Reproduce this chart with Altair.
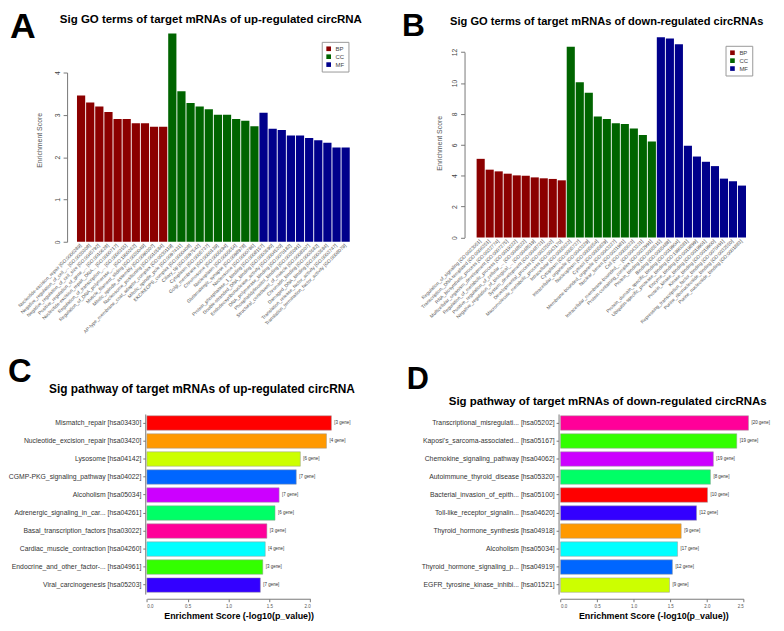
import altair as alt
import pandas as pd

# ---------------- data ----------------
go_up_terms = [
    "Nucleotide-excision_repair [GO:0006289]",
    "Negative_regulation_of_cell_... [GO:0030308]",
    "Negative_regulation_of_cell_size [GO:0045792]",
    "Positive_regulation_of_gene_... [GO:0010628]",
    "Nucleotide-excision_repair,_DNA... [GO:0000717]",
    "Regulation_of_transcription_... [GO:0006355]",
    "Regulation_of_DNA_polymerase_... [GO:1900262]",
    "Muscle_filament_sliding [GO:0030049]",
    "Mitotic_spindle_assembly [GO:0090307]",
    "Nucleosome_positioning [GO:0016584]",
    "AP-type_membrane_coat_adaptor_complex [GO:0030119]",
    "Mitotic_spindle_pole [GO:0097431]",
    "EKC/KEOPS_complex [GO:0000408]",
    "Ciliary_tip [GO:0097542]",
    "Cytoplasm [GO:0005737]",
    "Golgi_membrane [GO:0000139]",
    "Chromosome [GO:0005694]",
    "Nucleoplasm [GO:0005654]",
    "Glutamatergic_synapse [GO:0098978]",
    "Nucleosome [GO:0000786]",
    "Protein_phosphatase_1_binding [GO:0008157]",
    "Double-stranded_DNA_binding [GO:0003690]",
    "Endodeoxyribonuclease_activity [GO:0004520]",
    "DNA_polymerase_binding [GO:0070182]",
    "Phosphatidylinositol_binding [GO:0035091]",
    "Structural_constituent_of_muscle [GO:0008307]",
    "Chromatin_binding [GO:0003682]",
    "Damaged_DNA_binding [GO:0003684]",
    "Translation_release_factor_activity [GO:0003747]",
    "Translation_termination_factor_activity [GO:0008079]",
]
go_up_cats = ["BP"] * 10 + ["CC"] * 10 + ["MF"] * 10
go_up_scores = [3.46, 3.29, 3.20, 3.07, 2.90, 2.90, 2.80, 2.80, 2.72, 2.72,
                4.92, 3.56, 3.28, 3.20, 3.13, 3.00, 3.00, 2.90, 2.86, 2.73,
                3.05, 2.67, 2.64, 2.51, 2.51, 2.45, 2.40, 2.34, 2.23, 2.23]

go_down_terms = [
    "Regulation_of_signaling [GO:0023051]",
    "Transcription,_DNA-templated [GO:0006351]",
    "RNA_biosynthetic_process [GO:0032774]",
    "Multicellular_organism_development [GO:0007275]",
    "Regulation_of_metabolic_process [GO:0019222]",
    "Positive_regulation_of_cellular_... [GO:0048522]",
    "Negative_regulation_of_biological_... [GO:0048519]",
    "System_development [GO:0048731]",
    "Developmental_process [GO:0032502]",
    "Macromolecule_metabolic_process [GO:0043170]",
    "Intracellular [GO:0005622]",
    "Cytoplasm [GO:0005737]",
    "Intracellular_organelle [GO:0043229]",
    "Nucleoplasm [GO:0005654]",
    "Cytosol [GO:0005829]",
    "Membrane-bounded_organelle [GO:0043227]",
    "Nuclear_lumen [GO:0031981]",
    "Cell [GO:0005623]",
    "Intracellular_membrane-bounded_... [GO:0043231]",
    "Protein-containing_complex [GO:0032991]",
    "Protein_binding [GO:0005515]",
    "Binding [GO:0005488]",
    "Protein_domain_specific_binding [GO:0019904]",
    "Ubiquitin-specific_protease_binding [GO:1990381]",
    "Enzyme_binding [GO:0019899]",
    "Protein_kinase_binding [GO:0019901]",
    "Kinase_binding [GO:0019900]",
    "Repressing_transcription_factor_binding [GO:0070491]",
    "Purine_ribonucleoside_binding [GO:0032550]",
    "Purine_nucleoside_binding [GO:0001883]",
]
go_down_cats = ["BP"] * 10 + ["CC"] * 10 + ["MF"] * 10
go_down_scores = [5.09, 4.39, 4.28, 4.13, 4.02, 4.00, 3.89, 3.83, 3.79, 3.70,
                  12.34, 10.05, 9.37, 7.83, 7.66, 7.40, 7.34, 7.06, 6.63, 6.22,
                  12.96, 12.88, 12.51, 5.93, 5.24, 4.90, 4.62, 3.81, 3.64, 3.36]

path_up = ["Mismatch_repair [hsa03430]", "Nucleotide_excision_repair [hsa03420]",
           "Lysosome [hsa04142]", "CGMP-PKG_signaling_pathway [hsa04022]",
           "Alcoholism [hsa05034]", "Adrenergic_signaling_in_car... [hsa04261]",
           "Basal_transcription_factors [hsa03022]", "Cardiac_muscle_contraction [hsa04260]",
           "Endocrine_and_other_factor-... [hsa04961]", "Viral_carcinogenesis [hsa05203]"]
path_up_scores = [2.26, 2.20, 1.88, 1.83, 1.62, 1.57, 1.47, 1.45, 1.42, 1.39]
path_up_genes = ["[3 gene]", "[4 gene]", "[6 gene]", "[7 gene]", "[7 gene]",
                 "[6 gene]", "[3 gene]", "[4 gene]", "[3 gene]", "[7 gene]"]

path_down = ["Transcriptional_misregulati... [hsa05202]", "Kaposi's_sarcoma-associated... [hsa05167]",
             "Chemokine_signaling_pathway [hsa04062]", "Autoimmune_thyroid_disease [hsa05320]",
             "Bacterial_invasion_of_epith... [hsa05100]", "Toll-like_receptor_signalin... [hsa04620]",
             "Thyroid_hormone_synthesis [hsa04918]", "Alcoholism [hsa05034]",
             "Thyroid_hormone_signaling_p... [hsa04919]", "EGFR_tyrosine_kinase_inhibi... [hsa01521]"]
path_down_scores = [2.57, 2.41, 2.09, 2.05, 2.01, 1.86, 1.65, 1.60, 1.53, 1.49]
path_down_genes = ["[20 gene]", "[19 gene]", "[19 gene]", "[8 gene]", "[10 gene]",
                   "[12 gene]", "[9 gene]", "[17 gene]", "[12 gene]", "[9 gene]"]

# ---------------- styles ----------------
go_domain = ["BP", "CC", "MF"]
go_colors = ["#8B0000", "#006400", "#00008B"]
path_up_colors = ["#FF0000", "#FF9900", "#CCFF00", "#0066FF", "#CC00FF",
                  "#00FF66", "#FF0099", "#00FFFF", "#33FF00", "#3300FF"]
path_down_colors = ["#FF0099", "#33FF00", "#CC00FF", "#00FF66", "#FF0000",
                    "#3300FF", "#FF9900", "#00FFFF", "#0066FF", "#CCFF00"]

SANS = "Liberation Sans"
OX, OY = 16, 8           # page position of the plot origin
W, H = 760, 615


def px(a):
    return a - OX


def py(a):
    return a - OY


def go_panel(terms, cats, scores, xr, ydom, yr, yticks, axis_x, title_xy, legend_xy):
    df = pd.DataFrame({"term": terms, "cat": cats, "score": scores})
    return alt.Chart(df).mark_bar().encode(
        x=alt.X("term:N", sort=None,
                scale=alt.Scale(range=[px(xr[0]), px(xr[1])], paddingInner=0.1, paddingOuter=0),
                axis=alt.Axis(orient="bottom", offset=py(yr[0]) - H, domain=False, ticks=False,
                              labelAngle=315, labelAlign="right", labelBaseline="middle",
                              labelPadding=3, labelFontSize=4.8, labelColor="#555", labelFont=SANS,
                              labelLimit=400, labelOverlap=False, title=None, grid=False)),
        y=alt.Y("score:Q",
                scale=alt.Scale(domain=ydom, range=[py(yr[0]), py(yr[1])], nice=False),
                axis=alt.Axis(orient="left", offset=-px(axis_x), values=yticks, format="d",
                              grid=False, domainColor="#777", tickColor="#777", tickSize=4,
                              labelAngle=270, labelAlign="center", labelBaseline="bottom",
                              labelPadding=3, labelFont=SANS, labelFontSize=6.8, labelColor="#444",
                              title="Enrichment Score", titleFont=SANS, titleFontSize=7,
                              titleFontWeight="normal", titleColor="#555",
                              titleX=title_xy[0] - axis_x, titleY=py(title_xy[1]),
                              titleAngle=270, titleAlign="center", titleBaseline="middle")),
        color=alt.Color("cat:N", scale=alt.Scale(domain=go_domain, range=go_colors),
                        legend=alt.Legend(orient="none", legendX=px(legend_xy[0]),
                                          legendY=py(legend_xy[1]), title=None,
                                          strokeColor="#999", fillColor="white", padding=4,
                                          symbolType="square", symbolSize=22, symbolStrokeWidth=0,
                                          labelFont=SANS, labelFontSize=6, labelColor="#444",
                                          rowPadding=2, labelOffset=4)),
    )


def path_panel(names, scores, genes, colors, xdom, xr, xticks, yr, axis_x, axis_y, title_xy):
    df = pd.DataFrame({"pathway": names, "score": scores, "genes": genes})
    yscale = alt.Scale(range=[py(yr[0]), py(yr[1])], paddingInner=0.2, paddingOuter=0.1)
    xscale = alt.Scale(domain=xdom, range=[px(xr[0]), px(xr[1])], nice=False)
    yaxis = alt.Axis(orient="left", offset=-px(axis_x), grid=False, domainColor="#777",
                     tickColor="#777", tickSize=2.5, labelFont=SANS, labelFontSize=6.9,
                     labelColor="#333", labelPadding=2, labelLimit=300, title=None)
    xaxis = alt.Axis(orient="bottom", offset=py(axis_y) - H, values=xticks, format=".1f",
                     grid=False, domainColor="#777", tickColor="#777", tickSize=3,
                     labelFont=SANS, labelFontSize=4.5, labelColor="#555", labelPadding=2,
                     title="Enrichment Score (-log10(p_value))", titleFont=SANS,
                     titleFontSize=9, titleFontWeight="bold", titleColor="black",
                     titleX=px(title_xy[0]), titleY=title_xy[1] - axis_y,
                     titleAlign="center", titleBaseline="middle")
    bars = alt.Chart(df).mark_bar(stroke="#999", strokeWidth=0.5).encode(
        y=alt.Y("pathway:N", sort=None, scale=yscale, axis=yaxis),
        x=alt.X("score:Q", scale=xscale, axis=xaxis),
        color=alt.Color("pathway:N", sort=None, scale=alt.Scale(domain=names, range=colors),
                        legend=None),
    )
    txt = alt.Chart(df).mark_text(align="left", baseline="middle", dx=3, fontSize=4.5,
                                  color="#333", font=SANS).encode(
        y=alt.Y("pathway:N", sort=None, scale=yscale, axis=yaxis),
        x=alt.X("score:Q", scale=xscale, axis=xaxis),
        text="genes:N",
    )
    return alt.layer(bars, txt)


def label(text, x, y, size, align="left"):
    return alt.Chart(alt.Data(values=[{"t": text}])).mark_text(
        align=align, baseline="alphabetic", fontSize=size, font=SANS, fontWeight="bold",
        color="black").encode(text="t:N", x=alt.value(px(x)), y=alt.value(py(y)))


panelA = go_panel(go_up_terms, go_up_cats, go_up_scores, (77.7, 353.3), [0, 4], (241, 70),
                  [0, 1, 2, 3, 4], 67.7, (39.5, 138), (325, 39))
panelB = go_panel(go_down_terms, go_down_cats, go_down_scores, (481.5, 753.7), [0, 12],
                  (236.7, 49.3), [0, 2, 4, 6, 8, 10, 12], 469.3, (444, 141), (733, 43))
panelC = path_panel(path_up, path_up_scores, path_up_genes, path_up_colors, [0, 2],
                    (148.3, 313.3), [0, 0.5, 1, 1.5, 2], (415, 597), 146.7, 601.7, (241, 619))
panelD = path_panel(path_down, path_down_scores, path_down_genes, path_down_colors, [0, 2.5],
                    (566.3, 751), [0, 0.5, 1, 1.5, 2, 2.5], (415, 597), 564.3, 601.7, (660, 619))

texts = [
    label("A", 10, 35, 36),
    label("B", 406, 33, 32),
    label("C", 8, 383, 33),
    label("D", 411, 390, 31),
    label("Sig GO terms of target mRNAs of up-regulated circRNA", 213, 20, 11.6, "center"),
    label("Sig GO terms of target mRNAs of down-regulated circRNAs", 613, 22, 11.2, "center"),
    label("Sig pathway of target mRNAs of up-regulated circRNA", 204, 394, 12, "center"),
    label("Sig pathway of target mRNAs of down-regulated circRNAs", 614, 406, 11.6, "center"),
]

chart = alt.layer(panelA, panelB, panelC, panelD, *texts).resolve_scale(
    x="independent", y="independent", color="independent"
).properties(
    width=W, height=H,
    autosize=alt.AutoSizeParams(type="none"),
    padding={"left": 8, "top": 0, "right": 8, "bottom": 0},
).configure_view(strokeWidth=0)

chart.save("out.html", embed_options={"renderer": "svg", "actions": False})
